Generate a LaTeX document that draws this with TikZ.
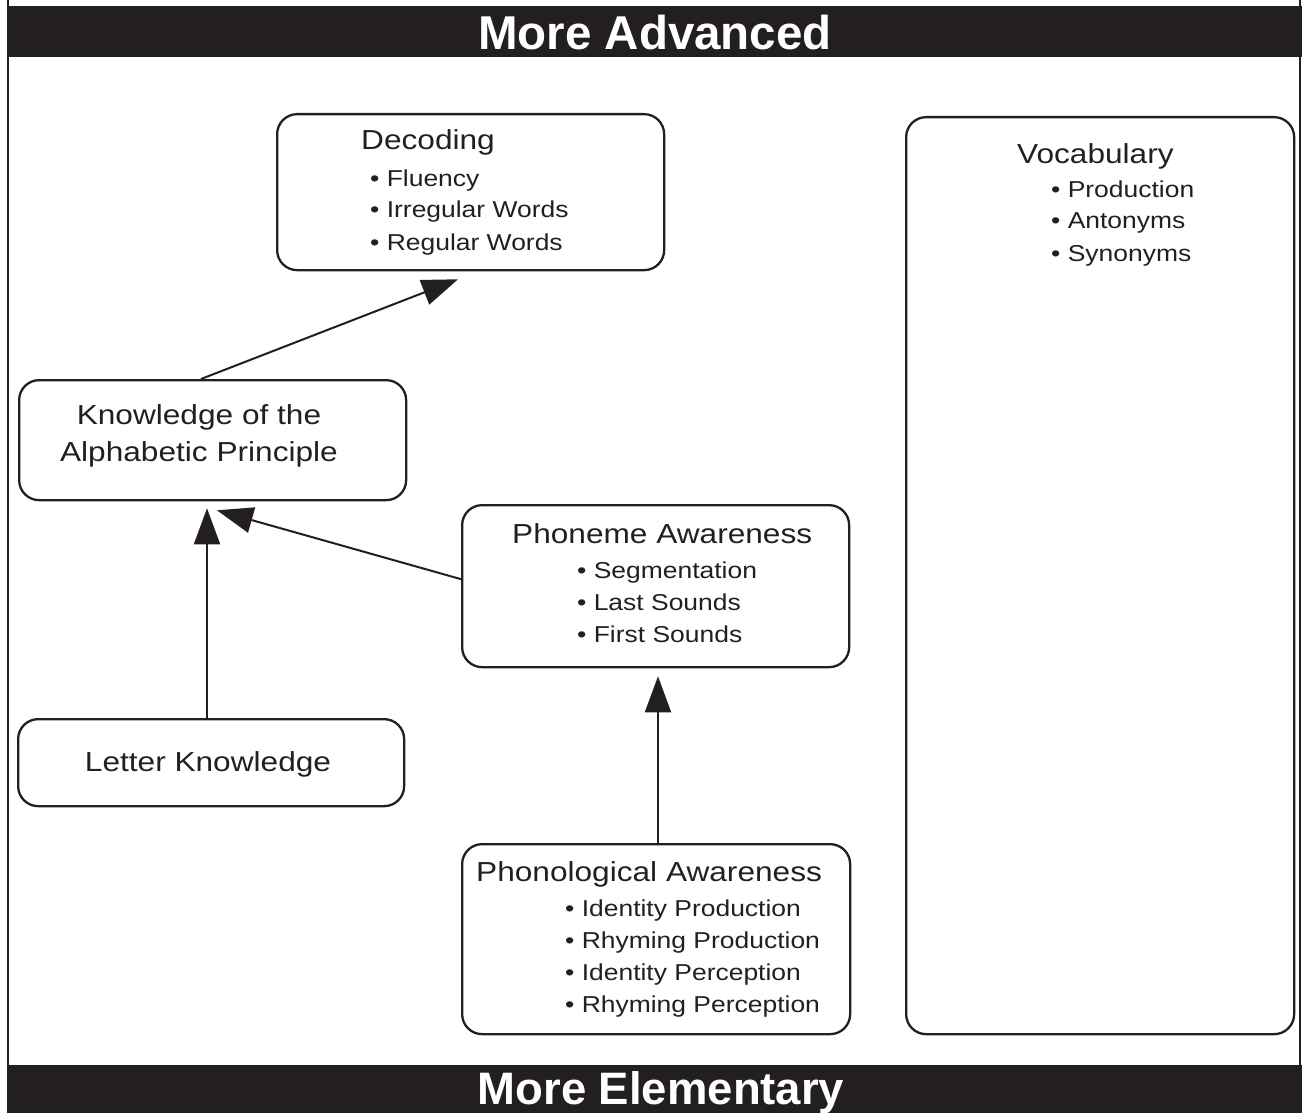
\documentclass[tikz,border=0pt]{standalone}
\usepackage{fontspec}
\setmainfont[FakeStretch=1.15]{Liberation Sans}
\newfontfamily\barfont{Liberation Sans}
\usetikzlibrary{arrows.meta}
\definecolor{ink}{HTML}{231F20}
\begin{document}
\begin{tikzpicture}[x=1pt,y=-1pt,
  box/.style={draw=ink, line width=2.3pt, rounded corners=20pt, anchor=north west, inner sep=0pt},
  ttl/.style={font=\fontsize{27.5}{33}\selectfont, text=ink, anchor=base west, inner sep=0pt},
  itm/.style={font=\fontsize{23}{28}\selectfont, text=ink, anchor=base west, inner sep=0pt},
  ctr/.style={font=\fontsize{27.5}{37}\selectfont, text=ink, anchor=base, inner sep=0pt, align=center},
  bartxt/.style={font=\barfont\bfseries\fontsize{47.5}{56}\selectfont, text=white, anchor=base, inner sep=0pt},
  arr/.style={draw=ink, line width=2pt, -{Triangle[length=36pt,width=26pt]}}]
\useasboundingbox (0,0) rectangle (1302,1113);
% frame
\draw[ink, line width=2pt] (8,0) -- (8,1113);
\draw[ink, line width=2pt] (1300,0) -- (1300,1113);
\fill[ink] (7,6) rectangle (1302,57);
\fill[ink] (7,1065) rectangle (1302,1113);
\node[bartxt] (top) at (655,50) {More Advanced};
\node[bartxt, font=\barfont\bfseries\fontsize{45.5}{54}\selectfont] (bot) at (661,1104) {More Elementary};
% boxes
\node[box, minimum width=387pt, minimum height=156pt] (dec) at (276,113) {};
\node[box, minimum width=387pt, minimum height=120pt] (kap) at (18,379) {};
\node[box, minimum width=387pt, minimum height=162pt] (pho) at (461,504) {};
\node[box, minimum width=386pt, minimum height=87pt] (let) at (17,718) {};
\node[box, minimum width=388pt, minimum height=190pt] (phl) at (461,843) {};
\node[box, minimum width=388pt, minimum height=917pt] (voc) at (905,116) {};
% Decoding
\node[ttl] (decT) at (361,150) {Decoding};
\node[itm] (dec1) at (370,186) {•\ Fluency};
\node[itm] (dec2) at (370,218) {•\ Irregular Words};
\node[itm] (dec3) at (370,250) {•\ Regular Words};
% Knowledge
\node[ctr] (kapT1) at (199,424) {Knowledge of the};
\node[ctr] (kapT2) at (199,461) {Alphabetic Principle};
% Phoneme
\node[ttl] (phoT) at (512,543) {Phoneme Awareness};
\node[itm] (pho1) at (577,578) {•\ Segmentation};
\node[itm] (pho2) at (577,610) {•\ Last Sounds};
\node[itm] (pho3) at (577,642) {•\ First Sounds};
% Letter
\node[ctr] (letT) at (208,771) {Letter Knowledge};
% Phonological
\node[ttl] (phlT) at (476,881) {Phonological Awareness};
\node[itm] (phl1) at (565,916) {•\ Identity Production};
\node[itm] (phl2) at (565,948) {•\ Rhyming Production};
\node[itm] (phl3) at (565,980) {•\ Identity Perception};
\node[itm] (phl4) at (565,1012) {•\ Rhyming Perception};
% Vocabulary
\node[ttl] (vocT) at (1017,164) {Vocabulary};
\node[itm] (voc1) at (1051,197) {•\ Production};
\node[itm] (voc2) at (1051,229) {•\ Antonyms};
\node[itm] (voc3) at (1051,261) {•\ Synonyms};
% arrows
\draw[arr] ([xshift=183pt]kap.north west) -- ([xshift=182pt,yshift=-8pt]dec.south west);
\draw[arr] ([xshift=190pt]let.north west) -- ([xshift=189pt,yshift=-7pt]kap.south west);
\draw[arr] ([yshift=7pt]pho.west) -- ([xshift=199pt,yshift=-9pt]kap.south west);
\draw[arr] ([xshift=197pt]phl.north west) -- ([xshift=197pt,yshift=-8pt]pho.south west);
\end{tikzpicture}
\end{document}
